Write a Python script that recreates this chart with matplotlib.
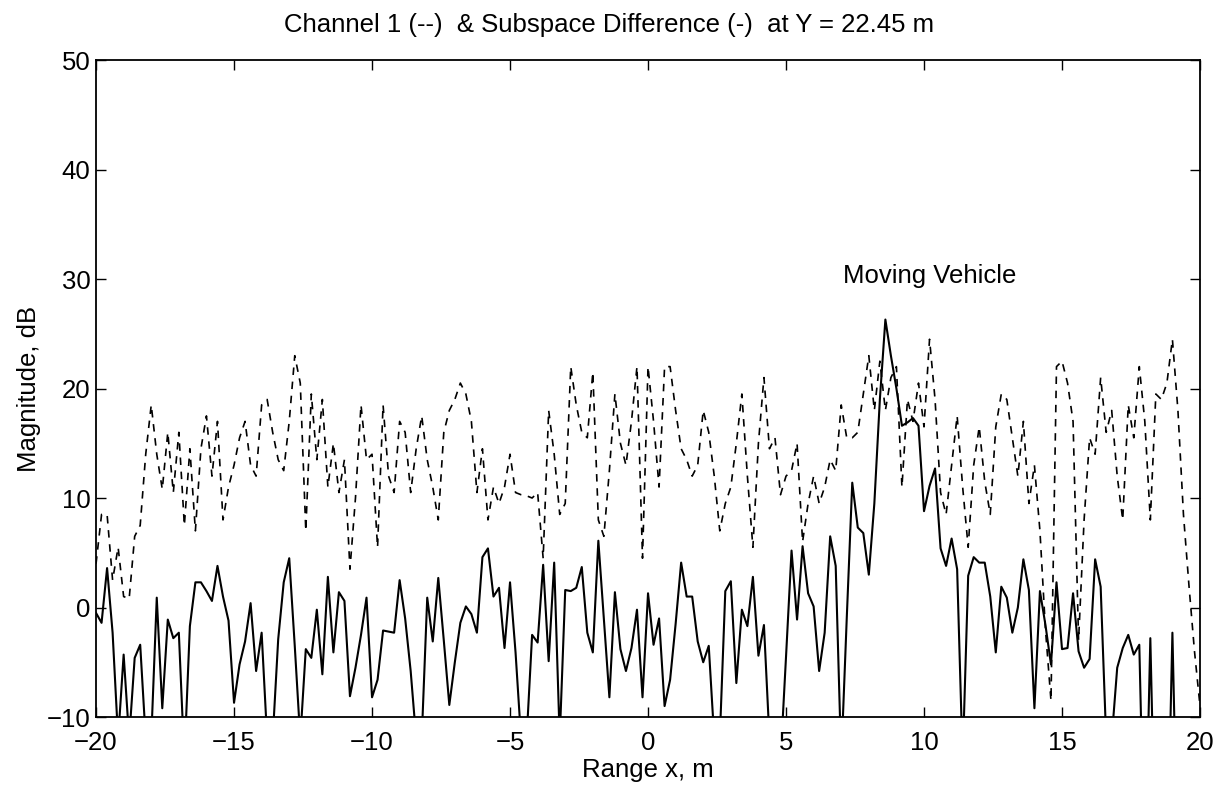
import numpy as np
import matplotlib
matplotlib.use("Agg")
import matplotlib.pyplot as plt

plt.rcParams["font.family"] = ["Liberation Sans", "DejaVu Sans"]

# range samples, 0.2 m apart
x_lo, x_hi, n_pts = -20.0, 20.0, 201

# Channel 1 (dashed), dB
chan1 = [
    4, 8.5, 8.5, 2.5, 5.5, 1.0, 0.8, 6.5, 7.5, 14,
    18.5, 14, 10.8, 16, 10.5, 16, 7.5, 14.5, 7, 14.5,
    17.5, 12, 17, 8, 11, 13, 15.5, 17, 13, 12,
    18.5, 19, 16, 13.5, 12.5, 17, 23, 20.5, 7, 19.5,
    13.5, 19, 11, 15, 10.5, 13.5, 3.5, 10, 18.5, 13.5,
    14, 5.5, 18.5, 12, 10.5, 17, 16, 10.5, 14.5, 17.5,
    13.5, 11, 8, 16, 18, 19, 20.5, 19.5, 17, 10.5,
    14.5, 8, 11, 9.5, 11, 14, 10.5, 10.3, 10.2, 10,
    10.5, 4.5, 18, 14, 8.5, 9.5, 22, 18.5, 16, 15.5,
    21.5, 8, 6.5, 12.5, 19.5, 15, 13, 17, 22, 4.5,
    22, 17, 11, 22, 22, 18, 14.5, 13.5, 12, 13,
    18, 16, 12, 7, 9.5, 11, 15, 19.5, 12, 5.5,
    15, 21, 14.5, 15.5, 10.3, 12, 12.5, 15, 6, 9.5,
    12, 9.5, 11, 13.5, 12.5, 18.5, 15.5, 15.5, 16, 19.5,
    23, 18, 22.5, 18, 21, 22, 11, 19, 17, 20.5,
    16.5, 24.5, 19, 10.5, 8.5, 13, 17.5, 11, 5.5, 13,
    16.5, 11.5, 8.5, 16.5, 19.5, 19, 15.5, 12, 17, 9.5,
    13, 7, -2, -8.5, 22, 22.5, 20.5, 17, -3, 8,
    15.5, 14, 21, 16, 18, 12, 8, 18.5, 15.5, 22,
    17, 8, 19.5, 19, 20.5, 24.5, 18, 8.5, 2, -4,
    -9,
]

# subspace difference (solid), dB; values under -10 get clipped by the axes
subdiff = [
    -0.5, -1.4, 3.6, -2.3, -12, -4.3, -12, -4.6, -3.4, -12,
    -12, 0.9, -9.2, -1.1, -2.8, -2.3, -14, -1.7, 2.3, 2.3,
    1.5, 0.6, 3.8, 1.0, -1.2, -8.7, -5.2, -3.1, 0.4, -5.8,
    -2.3, -12, -12, -2.9, 2.3, 4.5, -3.5, -12, -3.8, -4.6,
    -0.2, -6.1, 2.8, -4.1, 1.4, 0.6, -8.1, -5.5, -2.5, 0.9,
    -8.2, -6.6, -2.1, -2.2, -2.3, 2.5, -1.0, -5.8, -12, -12,
    0.9, -3.1, 2.7, -3.0, -8.9, -5.0, -1.4, 0.1, -0.6, -2.3,
    4.6, 5.4, 1.0, 1.8, -3.7, 2.3, -4.1, -12, -12, -2.5,
    -3.2, 3.9, -4.9, 4.1, -12, 1.6, 1.5, 1.8, 3.7, -2.3,
    -4.1, 6.1, -1.0, -8.2, 1.4, -3.8, -5.8, -3.7, -0.2, -8.2,
    1.3, -3.4, -1.0, -9.0, -6.6, -1.5, 4.1, 1.0, 1.0, -3.1,
    -5.0, -3.5, -12, -12, 1.5, 2.4, -6.9, -0.2, -1.7, 2.8,
    -4.4, -1.6, -12, -12, -14, -4.5, 5.2, -1.1, 5.6, 1.3,
    0.1, -5.8, -2.3, 6.5, 3.8, -14, -1.0, 11.4, 7.3, 6.8,
    3.0, 9.5, 19.0, 26.3, 23.0, 20.0, 16.6, 16.9, 17.3, 16.6,
    8.8, 11.1, 12.7, 5.4, 3.8, 6.3, 3.5, -14, 2.9, 4.6,
    4.1, 4.1, 1.0, -4.1, 1.9, 0.9, -2.3, 0.0, 4.4, 1.6,
    -9.2, 1.5, -1.6, -5.2, 2.3, -3.8, -3.7, 1.3, -4.0, -5.5,
    -4.7, 4.4, 1.9, -12, -12, -5.5, -3.7, -2.5, -4.3, -3.4,
    -25, -2.8, -25, -25, -25, -2.3, -25, -25, -25, -25,
    -25,
]

title = "Channel 1 (--)  & Subspace Difference (-)  at Y = 22.45 m"
note = "Moving Vehicle"
note_xy = (10.2, 30.3)

xr = np.linspace(x_lo, x_hi, n_pts)
fs = 18.5

fig = plt.figure(figsize=(12.25, 7.9), dpi=100)
ax = fig.add_axes([0.0784, 0.0924, 0.9012, 0.8316])

ax.plot(xr, chan1, color="black", lw=1.2, linestyle=(0, (4.5, 4.0)))
ax.plot(xr, subdiff, color="black", lw=1.5)

ax.set_xlim(-20, 20)
ax.set_ylim(-10, 50)
ax.set_xticks(np.arange(-20, 21, 5))
ax.set_yticks(np.arange(-10, 51, 10))
ax.tick_params(direction="in", length=7, width=1.0, top=True, right=True,
               labelsize=fs, pad=4)
ax.tick_params(axis="x", pad=10)
for sp in ax.spines.values():
    sp.set_linewidth(1.3)

ax.set_title(title, fontsize=fs, pad=20, x=0.465)
ax.set_xlabel("Range x, m", fontsize=fs, labelpad=2)
ax.set_ylabel("Magnitude, dB", fontsize=fs, labelpad=4)
ax.text(note_xy[0], note_xy[1], note, ha="center", va="center", fontsize=fs)

plt.savefig("out.png", dpi=100)
